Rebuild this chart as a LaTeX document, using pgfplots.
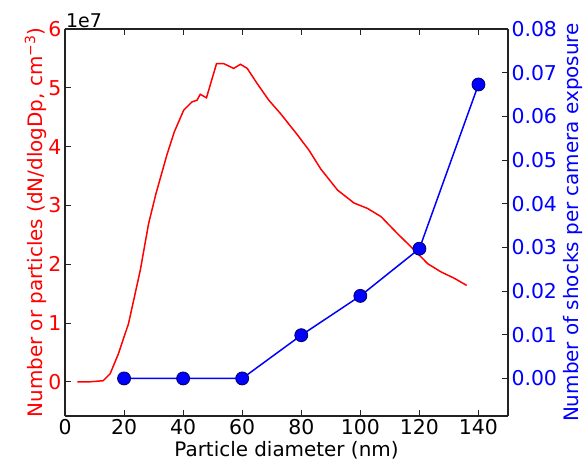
\documentclass[border=0pt]{standalone}
\usepackage{fontspec}
\setmainfont{DejaVu Sans}
\usepackage{pgfplots}
\pgfplotsset{compat=1.18}
\definecolor{mplred}{HTML}{FF0000}
\definecolor{mplblue}{HTML}{0000FF}
\definecolor{spine}{HTML}{222222}
\pgfplotsset{
  common/.style={
    width=443bp, height=387bp, scale only axis,
    at={(0,0)}, anchor=south west,
    xmin=0, xmax=150,
    axis line style={spine, line width=1.4pt},
    major tick length=6bp,
    tick align=inside,
    tick style={spine, line width=0.9pt},
    /pgf/number format/assume math mode=true,
    tick label style={font=\fontsize{20.5}{24}\selectfont},
    label style={font=\fontsize{20}{24}\selectfont},
  },
}
\begin{document}
\begin{tikzpicture}
\begin{axis}[common, name=ax1,
  axis y line*=left, axis x line*=box,
  xtick={0,20,40,60,80,100,120,140},
  xlabel={Particle diameter (nm)},
  ymin=-0.58, ymax=6,
  ytick={0,1,2,3,4,5,6},
  scaled y ticks=false,
  yticklabel style={text=mplred},
  ylabel={Number or particles (dN/dlogDp, cm\textsuperscript{−3})},
  ylabel style={text=mplred},
  ylabel shift=-5bp,
  xtick pos=both,
]
\addplot[color=mplred, line width=1.5pt, mark=none] coordinates {
(4.2,0) (8,0) (12.9,0.02) (15.3,0.14) (18.1,0.48) (21.5,0.99) (25.5,1.9)
(28.3,2.69) (30.8,3.2) (34.5,3.86) (37,4.25) (40.2,4.62) (43,4.76) (44.7,4.79)
(45.8,4.89) (47.9,4.83) (51.3,5.41) (53.8,5.41) (57.1,5.33) (59.4,5.40)
(61.7,5.33) (65.1,5.07) (69,4.79) (73,4.56) (78.7,4.20) (82.6,3.94) (86.6,3.62)
(92.3,3.26) (97.9,3.04) (102.4,2.95) (107,2.81) (112.6,2.52) (118.3,2.24)
(122.8,2.01) (127.3,1.87) (131.9,1.76) (136,1.64)};
\end{axis}
\begin{axis}[common,
  axis y line*=right, axis x line=none,
  ymin=-0.0086, ymax=0.08,
  ytick={0,0.01,0.02,0.03,0.04,0.05,0.06,0.07,0.08},
  scaled y ticks=false,
  yticklabel style={text=mplblue, /pgf/number format/.cd, fixed, fixed zerofill, precision=2},
  ylabel={Number of shocks per camera exposure},
  ylabel style={text=mplblue},
]
\addplot[color=mplblue, line width=1.5pt, mark=*, mark size=6.5bp,
  mark options={fill=mplblue, draw=black!60!mplblue, line width=0.8pt}] coordinates {
(20,0) (40,0) (60,0) (80,0.0099) (100,0.0189) (120,0.0297) (140,0.0673)};
\end{axis}
\node[anchor=south west, inner sep=1bp, font=\fontsize{19}{22}\selectfont] at (ax1.north west) {1e7};
\pgfresetboundingbox
\path (-65bp,-59bp) rectangle (522bp,416bp);
\end{tikzpicture}
\end{document}
